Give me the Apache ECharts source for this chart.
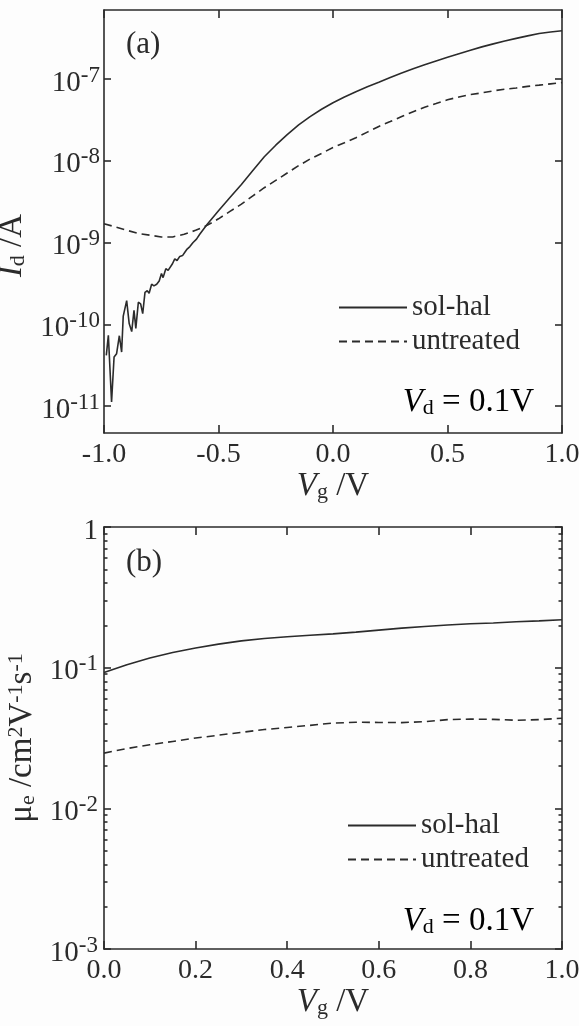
<!DOCTYPE html>
<html>
<head>
<meta charset="utf-8">
<script src="https://cdn.jsdelivr.net/npm/echarts@6/dist/echarts.min.js"></script>
<style>
  html, body { margin: 0; padding: 0; background: #fdfdfd; }
  #chart { width: 579px; height: 1026px; }
</style>
</head>
<body>
<div id="chart"></div>
<script>
// ---------- Panel (a): drain current I_d vs gate voltage V_g (V_d = 0.1 V) ----------
const vgSolHalA = [
  -0.990, -0.981, -0.967, -0.956, -0.945, -0.933, -0.923, -0.916, -0.901, -0.890,
  -0.879, -0.869, -0.861, -0.850, -0.840, -0.831, -0.821, -0.811, -0.803, -0.792,
  -0.782, -0.770, -0.759, -0.749, -0.742, -0.730, -0.720, -0.712, -0.701, -0.691,
  -0.681, -0.669, -0.657, -0.647, -0.637, -0.625, -0.611, -0.596, -0.582, -0.55,
  -0.50, -0.45, -0.40, -0.35, -0.30, -0.25, -0.20, -0.15, -0.10, -0.05,
  0.00, 0.05, 0.10, 0.15, 0.20, 0.25, 0.30, 0.35, 0.40, 0.45,
  0.50, 0.55, 0.60, 0.65, 0.70, 0.75, 0.80, 0.85, 0.90, 0.95, 1.00
];
const idSolHalA = [
  4.17e-11, 7.33e-11, 1.12e-11, 3.98e-11, 4.37e-11, 7.24e-11, 4.57e-11, 1.26e-10, 1.95e-10, 1.02e-10,
  8.13e-11, 1.48e-10, 8.91e-11, 1.86e-10, 1.78e-10, 1.35e-10, 2.45e-10, 2.57e-10, 2.40e-10, 3.09e-10,
  2.95e-10, 3.09e-10, 3.39e-10, 4.17e-10, 3.72e-10, 4.79e-10, 4.57e-10, 4.79e-10, 5.50e-10, 6.31e-10,
  6.03e-10, 6.76e-10, 6.92e-10, 7.59e-10, 8.32e-10, 8.91e-10, 1.00e-9, 1.10e-9, 1.26e-9, 1.66e-9,
  2.45e-9, 3.55e-9, 5.13e-9, 7.59e-9, 1.12e-8, 1.55e-8, 2.09e-8, 2.75e-8, 3.47e-8, 4.27e-8,
  5.13e-8, 6.03e-8, 7.00e-8, 8.04e-8, 9.12e-8, 1.04e-7, 1.18e-7, 1.33e-7, 1.49e-7, 1.66e-7,
  1.84e-7, 2.03e-7, 2.24e-7, 2.47e-7, 2.69e-7, 2.92e-7, 3.14e-7, 3.37e-7, 3.60e-7, 3.76e-7, 3.89e-7
];
const vgUntreatedA = [
  -1.00, -0.95, -0.90, -0.85, -0.80, -0.75, -0.70, -0.65, -0.60, -0.55,
  -0.50, -0.45, -0.40, -0.35, -0.30, -0.25, -0.20, -0.15, -0.10, -0.05,
  0.00, 0.05, 0.10, 0.15, 0.20, 0.25, 0.30, 0.35, 0.40, 0.45,
  0.50, 0.55, 0.60, 0.65, 0.70, 0.75, 0.80, 0.85, 0.90, 0.95, 1.00
];
const idUntreatedA = [
  1.70e-9, 1.55e-9, 1.41e-9, 1.29e-9, 1.23e-9, 1.17e-9, 1.17e-9, 1.26e-9, 1.41e-9, 1.62e-9,
  1.95e-9, 2.40e-9, 2.95e-9, 3.72e-9, 4.68e-9, 5.75e-9, 7.08e-9, 8.71e-9, 1.05e-8, 1.23e-8,
  1.45e-8, 1.66e-8, 1.91e-8, 2.24e-8, 2.63e-8, 3.02e-8, 3.47e-8, 3.98e-8, 4.52e-8, 5.01e-8,
  5.56e-8, 6.03e-8, 6.46e-8, 6.76e-8, 7.16e-8, 7.50e-8, 7.76e-8, 8.13e-8, 8.41e-8, 8.71e-8, 9.02e-8
];
const xTicksA = [-1.0, -0.5, 0.0, 0.5, 1.0];
const yDecadesA = [1e-11, 1e-10, 1e-9, 1e-8, 1e-7];

// ---------- Panel (b): electron mobility mu_e vs gate voltage V_g ----------
const vgB = [
  0.00, 0.05, 0.10, 0.15, 0.20, 0.25, 0.30, 0.35, 0.40, 0.45,
  0.50, 0.55, 0.60, 0.65, 0.70, 0.75, 0.80, 0.85, 0.90, 0.95, 1.00
];
const muSolHalB = [
  0.0923, 0.105, 0.117, 0.128, 0.138, 0.147, 0.155, 0.161, 0.166, 0.170,
  0.174, 0.179, 0.185, 0.191, 0.196, 0.201, 0.205, 0.208, 0.212, 0.215, 0.219
];
const muUntreatedB = [
  0.0247, 0.0266, 0.0283, 0.0299, 0.0316, 0.0331, 0.0347, 0.0363, 0.0376, 0.0389,
  0.0404, 0.0409, 0.0408, 0.0407, 0.0413, 0.0427, 0.0431, 0.0429, 0.0423, 0.0427, 0.0437
];
const xTicksB = [0.0, 0.2, 0.4, 0.6, 0.8, 1.0];
const yDecadesB = [1e-3, 1e-2, 1e-1, 1];
const yMinorB = [
  0.002, 0.003, 0.004, 0.005, 0.006, 0.007, 0.008, 0.009,
  0.02, 0.03, 0.04, 0.05, 0.06, 0.07, 0.08, 0.09,
  0.2, 0.3, 0.4, 0.5, 0.6, 0.7, 0.8, 0.9
];
const seriesNames = ['sol-hal', 'untreated'];

// ---------- styling ----------
const INK = '#2b2b2b';
const SERIF = '"Liberation Serif", "Times New Roman", serif';
const FS = 28;      // tick labels
const FT = 33;      // axis titles
const DASH = [8, 5];

const zip = (xs, ys) => xs.map((x, i) => [x, ys[i]]);

// rich styles for axis titles (sub- and superscripts)
const richTitle = {
  n:   { fontFamily: SERIF, fontSize: FT, color: INK, lineHeight: 34 },
  it:  { fontFamily: SERIF, fontSize: FT, fontStyle: 'italic', color: INK, lineHeight: 34 },
  sub: { fontFamily: SERIF, fontSize: 22, color: INK, lineHeight: 12, verticalAlign: 'bottom' },
  sup: { fontFamily: SERIF, fontSize: 22, color: INK, lineHeight: 14, verticalAlign: 'top' }
};
// rich styles for the in-plot V_d annotation
const richNote = {
  n:   { fontFamily: SERIF, fontSize: 33, color: INK, lineHeight: 34 },
  it:  { fontFamily: SERIF, fontSize: 33, fontStyle: 'italic', color: INK, lineHeight: 34 },
  sub: { fontFamily: SERIF, fontSize: 22, color: INK, lineHeight: 12, verticalAlign: 'bottom' }
};
// rich styles for decade tick labels: 10 with a raised exponent
const richTick = {
  b: { fontFamily: SERIF, fontSize: 29, color: INK, lineHeight: 30, padding: [8, 0, 0, 0] },
  s: { fontFamily: SERIF, fontSize: 23, color: INK, lineHeight: 26, verticalAlign: 'top' }
};

function decadeLabel(v) {
  const e = Math.log10(v);
  const r = Math.round(e);
  if (Math.abs(e - r) > 1e-6) return '';
  if (r === 0) return '{b|1}';
  return '{b|10}{s|' + r + '}';
}

const lineStyleAxis = { color: INK, width: 1.6 };

function xAxisPair(grid, min, max, interval, ticks, nameGap) {
  const common = {
    gridIndex: grid, type: 'value', min: min, max: max, interval: interval,
    splitLine: { show: false },
    axisLine: { show: true, onZero: false, lineStyle: lineStyleAxis },
    axisTick: { show: true, inside: true, length: 8, lineStyle: lineStyleAxis, customValues: ticks }
  };
  return [
    Object.assign({}, common, {
      position: 'bottom',
      axisLabel: {
        show: true, margin: 8, customValues: ticks,
        formatter: v => v.toFixed(1),
        fontFamily: SERIF, fontSize: FS, color: INK,
        showMinLabel: true, showMaxLabel: true
      },
      name: '{it|V}{sub|g}{n| /V}',
      nameLocation: 'middle', nameGap: nameGap,
      nameTextStyle: { rich: richTitle }
    }),
    Object.assign({}, common, { position: 'top', axisLabel: { show: false } })
  ];
}

function logAxis(grid, min, max, pos, opts) {
  return Object.assign({
    gridIndex: grid, type: 'log', logBase: 10, min: min, max: max, position: pos,
    splitLine: { show: false },
    axisLine: { show: true, onZero: false, lineStyle: lineStyleAxis },
    axisTick: { show: false },
    axisLabel: { show: false }
  }, opts);
}

function majorTicks(vals) {
  return { show: true, inside: true, length: 7, lineStyle: lineStyleAxis, customValues: vals };
}
function minorTicks(vals) {
  return { show: true, inside: true, length: 3.5, lineStyle: lineStyleAxis, customValues: vals };
}
function decadeLabels(vals, margin) {
  return {
    show: true, margin: margin, customValues: vals, formatter: decadeLabel,
    rich: richTick, showMinLabel: true, showMaxLabel: true
  };
}

const A_MIN = 4.68e-12, A_MAX = 6.98e-7;
const B_MIN = 1e-3, B_MAX = 1;

const legendBase = {
  orient: 'vertical', itemWidth: 68, itemHeight: 14, itemGap: 5, padding: 0,
  data: seriesNames, selectedMode: false,
  itemStyle: { opacity: 0 },
  textStyle: { fontFamily: SERIF, fontSize: 29, color: INK, lineHeight: 28 }
};

const option = {
  backgroundColor: '#fdfdfd',
  animation: false,
  textStyle: { fontFamily: SERIF, color: INK },
  grid: [
    { left: 104, top: 10, width: 458, height: 423, containLabel: false, outerBoundsMode: 'none' },
    { left: 104, top: 527, width: 458, height: 422, containLabel: false, outerBoundsMode: 'none' }
  ],
  xAxis: [].concat(
    xAxisPair(0, -1, 1, 0.5, xTicksA, 36),
    xAxisPair(1, 0, 1, 0.2, xTicksB, 36)
  ),
  yAxis: [
    logAxis(0, A_MIN, A_MAX, 'left', {
      axisTick: majorTicks(yDecadesA),
      axisLabel: decadeLabels(yDecadesA, 4),
      name: '{it|I}{sub|d}{n| /A}',
      nameLocation: 'middle', nameRotate: 90, nameGap: 67,
      nameTextStyle: { rich: richTitle, padding: [0, 48, 0, 0] }
    }),
    logAxis(0, A_MIN, A_MAX, 'right', { axisTick: majorTicks(yDecadesA) }),
    logAxis(1, B_MIN, B_MAX, 'left', {
      axisTick: majorTicks(yDecadesB),
      axisLabel: decadeLabels(yDecadesB, 6),
      name: '{n|μ}{sub|e}{n| /cm}{sup|2}{n|V}{sup|-1}{n|s}{sup|-1}',
      nameLocation: 'middle', nameRotate: 90, nameGap: 58,
      nameTextStyle: { rich: richTitle }
    }),
    logAxis(1, B_MIN, B_MAX, 'right', { axisTick: majorTicks(yDecadesB) }),
    logAxis(1, B_MIN, B_MAX, 'left', { axisLine: { show: false, onZero: false }, axisTick: minorTicks(yMinorB) }),
    logAxis(1, B_MIN, B_MAX, 'right', { axisLine: { show: false, onZero: false }, axisTick: minorTicks(yMinorB) })
  ],
  legend: [
    Object.assign({}, legendBase, { left: 338, top: 293 }),
    Object.assign({}, legendBase, { left: 347, top: 811 })
  ],
  graphic: [
    { type: 'text', x: 126, y: 45, style: { text: '(a)', font: '31px ' + SERIF, fill: INK, verticalAlign: 'middle' } },
    { type: 'text', x: 126, y: 563, style: { text: '(b)', font: '31px ' + SERIF, fill: INK, verticalAlign: 'middle' } },
    { type: 'text', x: 534, y: 402, style: { text: '{it|V}{sub|d}{n| = 0.1V}', rich: richNote, align: 'right', verticalAlign: 'middle' } },
    { type: 'text', x: 534, y: 921, style: { text: '{it|V}{sub|d}{n| = 0.1V}', rich: richNote, align: 'right', verticalAlign: 'middle' } }
  ],
  series: [
    { name: seriesNames[0], type: 'line', xAxisIndex: 0, yAxisIndex: 0, symbol: 'none',
      data: zip(vgSolHalA, idSolHalA), lineStyle: { color: INK, width: 1.6 }, itemStyle: { color: INK } },
    { name: seriesNames[1], type: 'line', xAxisIndex: 0, yAxisIndex: 0, symbol: 'none',
      data: zip(vgUntreatedA, idUntreatedA), lineStyle: { color: INK, width: 1.6, type: DASH }, itemStyle: { color: INK } },
    { name: seriesNames[0], type: 'line', xAxisIndex: 2, yAxisIndex: 2, symbol: 'none',
      data: zip(vgB, muSolHalB), lineStyle: { color: INK, width: 1.6 }, itemStyle: { color: INK } },
    { name: seriesNames[1], type: 'line', xAxisIndex: 2, yAxisIndex: 2, symbol: 'none',
      data: zip(vgB, muUntreatedB), lineStyle: { color: INK, width: 1.6, type: DASH }, itemStyle: { color: INK } }
  ]
};

const chart = echarts.init(document.getElementById('chart'), null, { renderer: 'canvas' });
chart.setOption(option);
</script>
</body>
</html>
